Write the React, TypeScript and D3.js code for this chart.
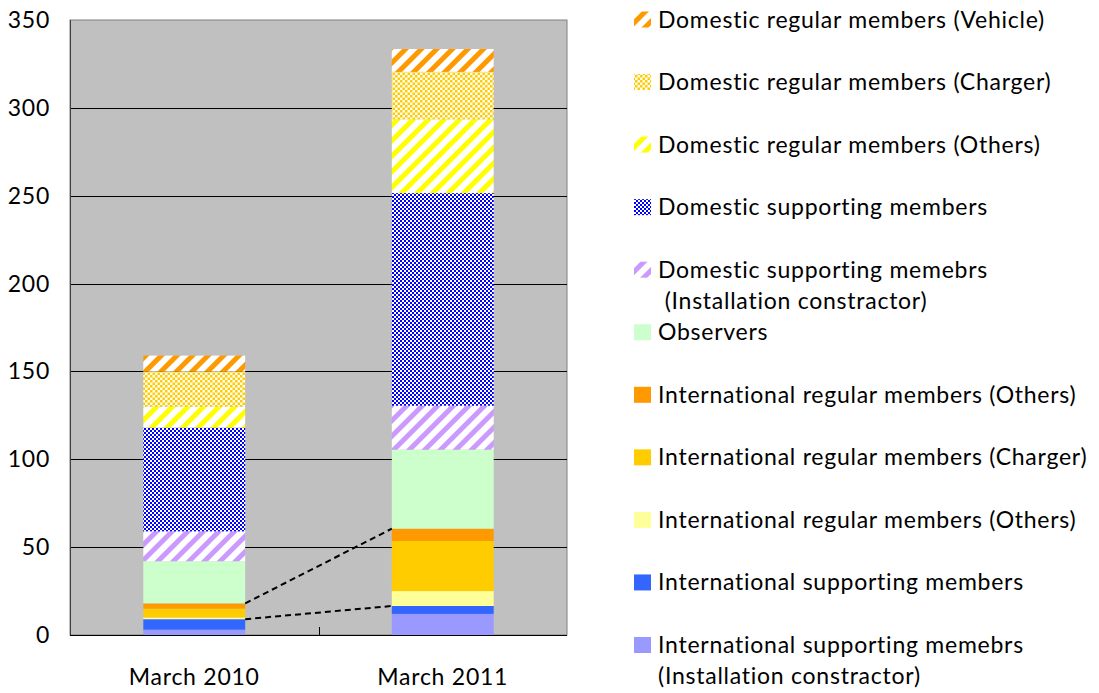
import React, { useRef, useEffect } from 'react';
import * as d3 from 'd3';

const categories = ['March 2010', 'March 2011'];

// series listed from the bottom of the stack to the top
const seriesNames = [
  'International supporting memebrs\n(Installation constractor)',
  'International supporting members',
  'International regular members (Others)',
  'International regular members (Charger)',
  'International regular members (Others) ',
  'Observers',
  'Domestic supporting memebrs\n (Installation constractor)',
  'Domestic supporting members',
  'Domestic regular members (Others)',
  'Domestic regular members (Charger)',
  'Domestic regular members (Vehicle)',
];

const march2010 = [3, 6, 1, 5, 3, 24, 17, 59, 12, 20, 9];
const march2011 = [12, 4.5, 8.5, 28.5, 7, 45, 25, 121, 42, 27, 13];

const seriesFills = [
  { kind: 'solid', color: '#9999FF' },
  { kind: 'solid', color: '#3366FF' },
  { kind: 'solid', color: '#FFFF99' },
  { kind: 'solid', color: '#FFCC00' },
  { kind: 'solid', color: '#FF9900' },
  { kind: 'solid', color: '#CCFFCC' },
  { kind: 'stripe', color: '#CC99FF' },
  { kind: 'checker', color: '#0000FF' },
  { kind: 'stripe', color: '#FFFF00' },
  { kind: 'checker', color: '#FFCC00' },
  { kind: 'stripe', color: '#FF9900' },
];

const yTicks = [0, 50, 100, 150, 200, 250, 300, 350];

const FONT = 'Lato, "Open Sans", sans-serif';
const FS = 23;
const LS = '0.75px';

const App: React.FC = () => {
  const svgRef = useRef<SVGSVGElement>(null);

  useEffect(() => {
    if (!svgRef.current) return;
    const svg = d3.select(svgRef.current);
    svg.selectAll('*').remove();

    const plot = { left: 70, right: 567, top: 20, bottom: 635 };

    const x = d3.scaleBand<string>()
      .domain(categories)
      .range([plot.left, plot.right])
      .padding(0);
    const barW = x.bandwidth() * 0.41;

    const y = d3.scaleLinear().domain([0, 350]).range([plot.bottom, plot.top]);

    const rows = categories.map((c, i) => {
      const r: Record<string, any> = { cat: c };
      seriesNames.forEach((s, j) => { r[s] = i === 0 ? march2010[j] : march2011[j]; });
      return r;
    });
    const stacked = d3.stack<any>().keys(seriesNames)(rows);

    // patterns
    const defs = svg.append('defs');
    seriesFills.forEach((f, i) => {
      if (f.kind === 'stripe') {
        const p = defs.append('pattern')
          .attr('id', `pat${i}`)
          .attr('patternUnits', 'userSpaceOnUse')
          .attr('width', 11).attr('height', 11)
          .attr('patternTransform', 'rotate(45)');
        p.append('rect').attr('width', 11).attr('height', 11).attr('fill', '#fff');
        p.append('rect').attr('width', 5).attr('height', 11).attr('fill', f.color);
      } else if (f.kind === 'checker') {
        const s = f.color === '#0000FF' ? 2 : 2.5;
        const p = defs.append('pattern')
          .attr('id', `pat${i}`)
          .attr('patternUnits', 'userSpaceOnUse')
          .attr('width', s * 2).attr('height', s * 2);
        p.append('rect').attr('width', s * 2).attr('height', s * 2).attr('fill', '#fff');
        p.append('rect').attr('width', s).attr('height', s).attr('fill', f.color);
        p.append('rect').attr('x', s).attr('y', s).attr('width', s).attr('height', s).attr('fill', f.color);
      }
    });
    const fillOf = (i: number) => seriesFills[i].kind === 'solid' ? seriesFills[i].color : `url(#pat${i})`;

    // plot area
    svg.append('rect')
      .attr('x', plot.left).attr('y', plot.top)
      .attr('width', plot.right - plot.left).attr('height', plot.bottom - plot.top)
      .attr('fill', '#C0C0C0').attr('stroke', '#808080');

    svg.append('g')
      .selectAll('line')
      .data(yTicks.filter(t => t > 0 && t < 350))
      .enter().append('line')
      .attr('x1', plot.left).attr('x2', plot.right)
      .attr('y1', d => Math.round(y(d)) + 0.5).attr('y2', d => Math.round(y(d)) + 0.5)
      .attr('stroke', '#000').attr('stroke-width', 1);

    // bars
    stacked.forEach((layer, i) => {
      svg.append('g')
        .selectAll('rect')
        .data(layer)
        .enter().append('rect')
        .attr('x', d => (x(d.data.cat) || 0) + x.bandwidth() / 2 - barW / 2)
        .attr('y', d => y(d[1]))
        .attr('width', barW)
        .attr('height', d => y(d[0]) - y(d[1]))
        .attr('fill', fillOf(i));
    });

    // series lines between the bars
    [1, 4].forEach(i => {
      const layer = stacked[i];
      svg.append('line')
        .attr('x1', (x(categories[0]) || 0) + x.bandwidth() / 2 + barW / 2)
        .attr('y1', y(layer[0][1]))
        .attr('x2', (x(categories[1]) || 0) + x.bandwidth() / 2 - barW / 2)
        .attr('y2', y(layer[1][1]))
        .attr('stroke', '#000').attr('stroke-width', 2)
        .attr('stroke-dasharray', '6,4');
    });

    // axes
    svg.append('line')
      .attr('x1', plot.left + 0.5).attr('x2', plot.left + 0.5)
      .attr('y1', plot.top).attr('y2', plot.bottom)
      .attr('stroke', '#404040');
    svg.append('line')
      .attr('x1', plot.left).attr('x2', plot.right)
      .attr('y1', plot.bottom + 0.5).attr('y2', plot.bottom + 0.5)
      .attr('stroke', '#000');
    const midX = Math.round((x(categories[1]) || 0)) + 0.5;
    svg.append('line')
      .attr('x1', midX).attr('x2', midX)
      .attr('y1', plot.bottom - 8).attr('y2', plot.bottom)
      .attr('stroke', '#000');

    svg.append('g')
      .selectAll('text')
      .data(yTicks)
      .enter().append('text')
      .attr('x', 50)
      .attr('y', d => y(d) + 8)
      .attr('text-anchor', 'end')
      .attr('font-family', FONT).attr('font-size', FS)
      .attr('letter-spacing', LS)
      .attr('fill', '#000')
      .text(d => d);

    svg.append('g')
      .selectAll('text')
      .data(categories)
      .enter().append('text')
      .attr('x', d => (x(d) || 0) + x.bandwidth() / 2)
      .attr('y', 685)
      .attr('text-anchor', 'middle')
      .attr('font-family', FONT).attr('font-size', FS)
      .attr('letter-spacing', LS)
      .attr('fill', '#000')
      .text(d => d);

    // legend, top of stack first
    const legendY = d3.scaleLinear().domain([0, 10]).range([19.5, 645]);
    const legend = svg.append('g');
    seriesNames.slice().reverse().forEach((name, k) => {
      const i = seriesNames.length - 1 - k;
      const cy = legendY(k);
      legend.append('rect')
        .attr('x', 634).attr('y', cy - 8)
        .attr('width', 17).attr('height', 16)
        .attr('fill', fillOf(i));
      const lines = name.trimEnd().split('\n');
      lines.forEach((ln, j) => {
        legend.append('text')
          .attr('x', 658)
          .attr('y', cy + 8 + j * 31)
          .attr('font-family', FONT).attr('font-size', FS)
          .attr('letter-spacing', LS)
          .attr('fill', '#000')
          .attr('xml:space', 'preserve')
          .style('white-space', 'pre')
          .text(ln);
      });
    });
  }, []);

  return (
    <svg ref={svgRef} width="1099" height="693" style={{ display: 'block', position: 'absolute', left: 0, top: 0 }}></svg>
  );
};

export default App;
